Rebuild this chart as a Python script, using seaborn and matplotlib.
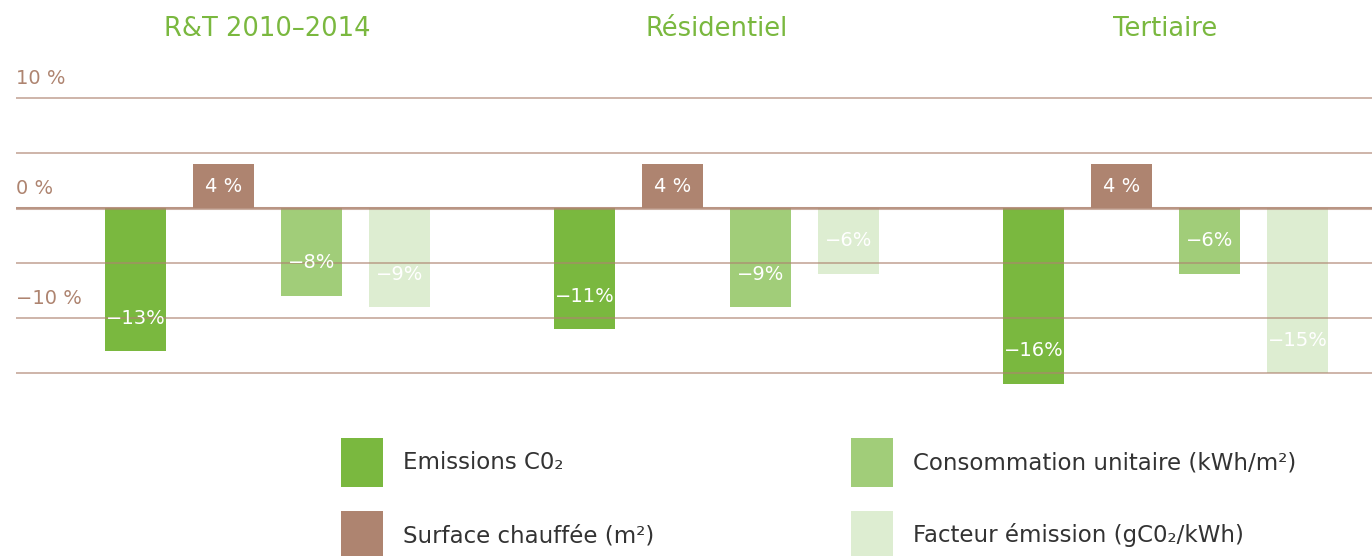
import matplotlib.pyplot as plt
import seaborn as sns
import pandas as pd

groupes = ["R&T 2010–2014", "Résidentiel", "Tertiaire"]
series = ["Emissions C0₂", "Surface chauffée (m²)",
          "Consommation unitaire (kWh/m²)", "Facteur émission (gC0₂/kWh)"]
emissions = [-13, -11, -16]
surface = [4, 4, 4]
consommation = [-8, -9, -6]
facteur = [-9, -6, -15]
y_ticks = [10, 5, 0, -5, -10, -15]
y_labels = {10: "10 %", 0: "0 %", -10: "−10 %"}

couleurs = ["#7ab83f", "#ae8470", "#a1cd79", "#ddedd1"]
brun = "#ae8470"
vert = "#7ab83f"

valeurs = [emissions, surface, consommation, facteur]
df = pd.DataFrame({
    "groupe": [g for s in series for g in groupes],
    "serie": [s for s in series for g in groupes],
    "valeur": [v for vals in valeurs for v in vals],
})

sns.set_style("white")
plt.rcParams["font.family"] = ["DejaVu Sans"]

fig = plt.figure(figsize=(13.72, 5.56), dpi=100)
ax = fig.add_axes([16 / 1372, 1 - 395 / 556, 1 - 16 / 1372, 308 / 556])

sns.barplot(data=df, x="groupe", y="valeur", hue="serie", order=groupes,
            hue_order=series, palette=couleurs, saturation=1, width=0.784,
            gap=0.3, linewidth=0, ax=ax)

handles, labels = ax.get_legend_handles_labels()
ax.get_legend().remove()

ax.set_ylim(-17, 11)
ax.set_xlim(-0.56, 2.46)
ax.set_yticks(y_ticks)
ax.set_yticklabels([])
ax.set_xticks([])
ax.set_xlabel("")
ax.set_ylabel("")
ax.tick_params(length=0)
sns.despine(ax=ax, left=True, bottom=True)

# grid lines drawn over the bars
ax.set_axisbelow(False)
ax.grid(axis="y", color=brun, alpha=0.65, lw=1.3)
ax.axhline(0, color=brun, alpha=0.65, lw=2.2)

for v, lab in y_labels.items():
    ax.text(0, v + 1.8, lab, transform=ax.get_yaxis_transform(),
            ha="left", va="center", color=brun, fontsize=14)

for i, g in enumerate(groupes):
    ax.text(i, 1.188, g, transform=ax.get_xaxis_transform(), ha="center",
            va="center", color=vert, fontsize=18.5)

# value labels inside the bars
for cont, vals in zip(ax.containers, valeurs):
    for bar, v in zip(cont, vals):
        x = bar.get_x() + bar.get_width() / 2
        if v > 0:
            ax.text(x, v / 2, f"{v} %", ha="center", va="center",
                    color="white", fontsize=14)
        else:
            ax.text(x, v + 3, f"−{abs(v)}%", ha="center", va="center",
                    color="white", fontsize=14)

fig.legend(handles, labels, loc="upper left",
           bbox_to_anchor=(341 / 1372, 1 - 438 / 556), ncol=2,
           frameon=False, fontsize=16.5, handlelength=1.83, handleheight=2.92,
           handletextpad=0.87, labelspacing=1.05, columnspacing=8.6,
           borderpad=0, borderaxespad=0, labelcolor="#333333")

fig.savefig("out.png", dpi=100)
